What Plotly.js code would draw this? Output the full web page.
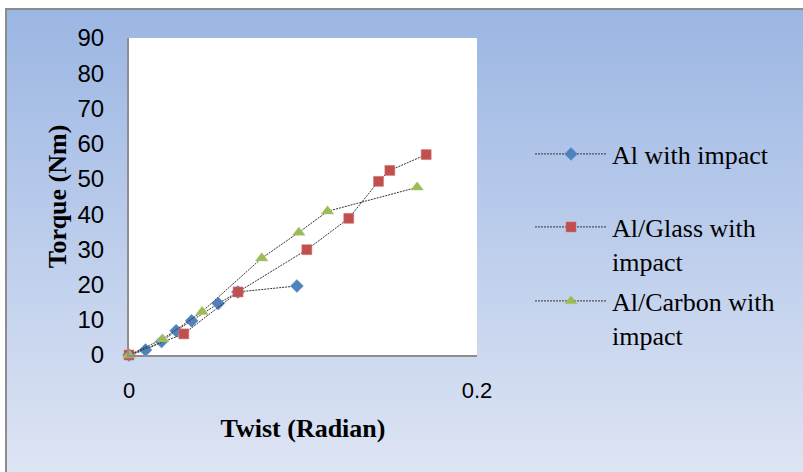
<!DOCTYPE html>
<html>
<head>
<meta charset="utf-8">
<script src="https://cdn.plot.ly/plotly-3.0.1.min.js"></script>
<style>
  html, body { margin: 0; padding: 0; background: #ffffff; }
  #wrap { position: relative; width: 803px; height: 472px; background: #ffffff; overflow: hidden; }
  #bg { position: absolute; left: 5px; top: 8px; right: 0; bottom: 0;
        border-left: 2px solid #8c8c8c; border-top: 2px solid #8c8c8c;
        background: linear-gradient(to bottom, #9bb6e3 0%, #b9cbeb 45%, #dde4f3 100%); }
  #chart { position: absolute; left: 0; top: 0; width: 803px; height: 472px; }
</style>
</head>
<body>
<div id="wrap"><div id="bg"></div><div id="chart"></div></div>
<script>
// Al with impact
const alX = [0, 0.0095, 0.0187, 0.0271, 0.036, 0.0513, 0.0626, 0.0965];
const alY = [0, 1.4, 3.8, 6.9, 9.7, 14.6, 17.9, 19.6];
// Al/Glass with impact
const glassX = [0, 0.0315, 0.0627, 0.1022, 0.1263, 0.1434, 0.1499, 0.1708];
const glassY = [0, 6.0, 17.9, 29.9, 38.8, 49.3, 52.4, 56.9];
// Al/Carbon with impact
const carbonX = [0, 0.0193, 0.042, 0.0763, 0.0976, 0.1141, 0.1656];
const carbonY = [0, 4.5, 12.3, 27.5, 34.8, 40.8, 47.6];

const names = ['Al with impact', 'Al/Glass with<br>impact', 'Al/Carbon with<br>impact'];
const xTicks = [0, 0.2];
const xTickText = ['0', '0.2'];

const lineStyle = {color: '#333333', width: 1, dash: '2px,1px'};

const traces = [
  {x: alX, y: alY, name: names[0], type: 'scatter', mode: 'lines+markers', cliponaxis: false,
   line: lineStyle, legend: 'legend',
   marker: {symbol: 'diamond', size: 10, color: '#4f81bd', line: {width: 0.5, color: '#6a96cc'}}},
  {x: glassX, y: glassY, name: names[1], type: 'scatter', mode: 'lines+markers', cliponaxis: false,
   line: lineStyle, legend: 'legend2',
   marker: {symbol: 'square', size: 10, color: '#c0504d', line: {width: 0.5, color: '#d47270'}}},
  {x: carbonX, y: carbonY, name: names[2], type: 'scatter', mode: 'lines+markers', cliponaxis: false,
   line: lineStyle, legend: 'legend3',
   marker: {symbol: 'triangle-up', size: 11, color: '#9bbb59', line: {width: 0.5, color: '#aecb72'}}}
];

const legendFont = {family: 'Liberation Serif, Times New Roman, serif', size: 26, color: '#000000'};
function leg(yc) {
  return {xref: 'container', yref: 'container', x: 530/803, y: 1 - yc/472,
          xanchor: 'left', yanchor: 'middle', valign: 'top', bgcolor: 'rgba(0,0,0,0)',
          borderwidth: 0, font: legendFont, itemwidth: 72, tracegroupgap: 0};
}

const layout = {
  width: 803, height: 472,
  margin: {l: 129, r: 326, t: 38, b: 117, pad: 0},
  paper_bgcolor: 'rgba(0,0,0,0)',
  plot_bgcolor: '#ffffff',
  showlegend: true,
  legend: leg(154),
  legend2: leg(244),
  legend3: leg(318),
  xaxis: {
    range: [0, 0.2], tickvals: xTicks, ticktext: xTickText,
    showgrid: false, zeroline: false, showline: true, linecolor: '#8e8e8e', linewidth: 2,
    ticks: '', ticklabelstandoff: 15,
    tickfont: {family: 'Liberation Sans, Arial, sans-serif', size: 22, color: '#000000'},
    title: {text: 'Twist (Radian)', standoff: 16,
            font: {family: 'Liberation Serif, Times New Roman, serif', size: 26, color: '#000000', weight: 'bold'}},
    automargin: false, fixedrange: true
  },
  yaxis: {
    range: [0, 90], dtick: 10, tick0: 0,
    showgrid: false, zeroline: false, showline: true, linecolor: '#8e8e8e', linewidth: 2,
    ticks: '', ticklabelstandoff: 18,
    tickfont: {family: 'Liberation Sans, Arial, sans-serif', size: 24, color: '#000000'},
    title: {text: 'Torque (Nm)', standoff: 3,
            font: {family: 'Liberation Serif, Times New Roman, serif', size: 26, color: '#000000', weight: 'bold'}},
    automargin: false, fixedrange: true
  }
};

Plotly.newPlot('chart', traces, layout, {displayModeBar: false, staticPlot: true});
</script>
</body>
</html>
